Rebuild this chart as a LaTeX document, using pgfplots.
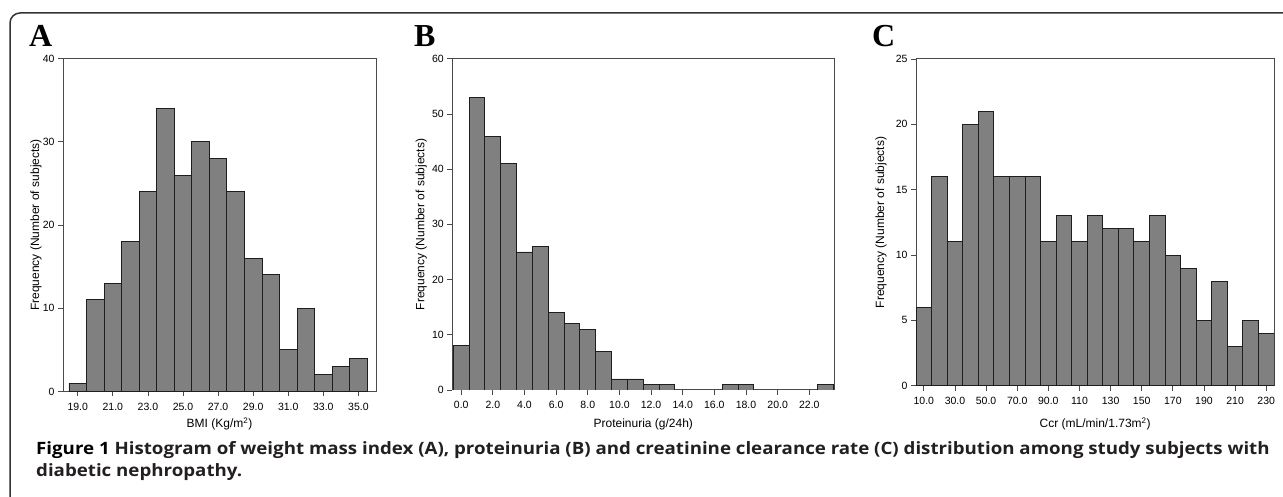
\documentclass[border=0pt]{standalone}
\usepackage{fontspec}
\setmainfont{Liberation Sans}
\newfontfamily\letterfont{Liberation Serif}
\newfontfamily\capfont[FakeStretch=1.1]{Open Sans}
\usepackage{pgfplots}
\pgfplotsset{compat=1.18}
\definecolor{barfill}{HTML}{808080}
\definecolor{baredge}{HTML}{1E1E1E}
\definecolor{framecol}{HTML}{4A4A4A}
\definecolor{outercol}{HTML}{333333}
\definecolor{capcol}{HTML}{231F20}
\pgfplotsset{
  hist/.style={
    scale only axis,
    ybar, bar shift=0pt,
    ymin=0,
    tick align=outside,
    xtick pos=bottom, ytick pos=left,
    major tick length=5pt,
    tick style={framecol, line width=0.8pt},
    axis line style={framecol, line width=1pt},
    ticklabel style={font=\fontsize{10.5}{12}\selectfont},
    yticklabel style={inner ysep=0pt},
    xticklabel style={anchor=base, yshift=-14pt},
    label style={font=\fontsize{12}{14}\selectfont},
  },
  histbar/.style={fill=barfill, draw=baredge, line width=0.9pt}
}
\tikzset{panelletter/.style={anchor=base west, inner sep=0pt, text depth=0pt, font=\letterfont\bfseries\fontsize{32}{32}\selectfont}}
\begin{document}
\begin{tikzpicture}[x=1pt,y=1pt]
\useasboundingbox (0,0) rectangle (1283,497);
% outer frame
\draw[line width=1.5pt, color=outercol] (10,-5) -- (10,474) arc[start angle=180, end angle=90, radius=10] -- (1290,484);
% panel letters
\node[panelletter] at (29,450) {A};
\node[panelletter] at (414,450) {B};
\node[panelletter] at (872,450) {C};

% Panel A
\begin{axis}[hist, at={(63pt,105.5pt)}, anchor=south west,
  width=313pt, height=333pt,
  bar width=1,
  xmin=18.16, xmax=36.0, ymax=40,
  xtick={19,21,23,25,27,29,31,33,35},
  xticklabels={19.0,21.0,23.0,25.0,27.0,29.0,31.0,33.0,35.0},
  ytick={0,10,20,30,40}, yticklabels={0,10,20,30,40},
  xlabel={BMI (Kg/m\textsuperscript{2})},
  ylabel={Frequency (Number of subjects)},
  xlabel style={at={(axis description cs:0.5,0)}, anchor=base, yshift=-36pt},
  ylabel style={at={(axis description cs:-0.0863,0.5)}, anchor=center},
]
\addplot[histbar] coordinates {(19,1)(20,11)(21,13)(22,18)(23,24)(24,34)(25,26)(26,30)(27,28)(28,24)(29,16)(30,14)(31,5)(32,10)(33,2)(34,3)(35,4)};
\end{axis}

% Panel B
\begin{axis}[hist, at={(452.3pt,107pt)}, anchor=south west,
  width=382pt, height=331.3pt,
  bar width=1,
  xmin=-0.563, xmax=23.58, ymax=60,
  xtick={0,2,4,6,8,10,12,14,16,18,20,22},
  xticklabels={0.0,2.0,4.0,6.0,8.0,10.0,12.0,14.0,16.0,18.0,20.0,22.0},
  ytick={0,10,20,30,40,50,60}, yticklabels={0,10,20,30,40,50,60},
  xlabel={Proteinuria (g/24h)},
  ylabel={Frequency (Number of subjects)},
  xlabel style={at={(axis description cs:0.5,0)}, anchor=base, yshift=-37.5pt},
  ylabel style={at={(axis description cs:-0.0812,0.5)}, anchor=center},
]
\addplot[histbar] coordinates {(0,8)(1,53)(2,46)(3,41)(4,25)(5,26)(6,14)(7,12)(8,11)(9,7)(10,2)(11,2)(12,1)(13,1)(17,1)(18,1)(23,1)};
\end{axis}

% Panel C
\begin{axis}[hist, at={(916pt,111.3pt)}, anchor=south west,
  width=358.3pt, height=326.7pt,
  bar width=10,
  xmin=4.95, xmax=235.2, ymax=25,
  xtick={10,30,50,70,90,110,130,150,170,190,210,230},
  xticklabels={10.0,30.0,50.0,70.0,90.0,110,130,150,170,190,210,230},
  ytick={0,5,10,15,20,25}, yticklabels={0,5,10,15,20,25},
  xlabel={Ccr (mL/min/1.73m\textsuperscript{2})},
  ylabel={Frequency (Number of subjects)},
  xlabel style={at={(axis description cs:0.5,0)}, anchor=base, yshift=-41.8pt},
  ylabel style={at={(axis description cs:-0.0977,0.5)}, anchor=center},
]
\addplot[histbar] coordinates {(10,6)(20,16)(30,11)(40,20)(50,21)(60,16)(70,16)(80,16)(90,11)(100,13)(110,11)(120,13)(130,12)(140,12)(150,11)(160,13)(170,10)(180,9)(190,5)(200,8)(210,3)(220,5)(230,4)};
\end{axis}

% caption
\node[anchor=base west, inner sep=0pt, font=\capfont\bfseries\fontsize{17}{22}\selectfont, text=capcol] at (36,42)
  {\textcolor{black}{Figure 1} Histogram of weight mass index (A), proteinuria (B) and creatinine clearance rate (C) distribution among study subjects with};
\node[anchor=base west, inner sep=0pt, font=\capfont\bfseries\fontsize{17}{22}\selectfont, text=capcol] at (36,20)
  {diabetic nephropathy.};
\end{tikzpicture}
\end{document}
